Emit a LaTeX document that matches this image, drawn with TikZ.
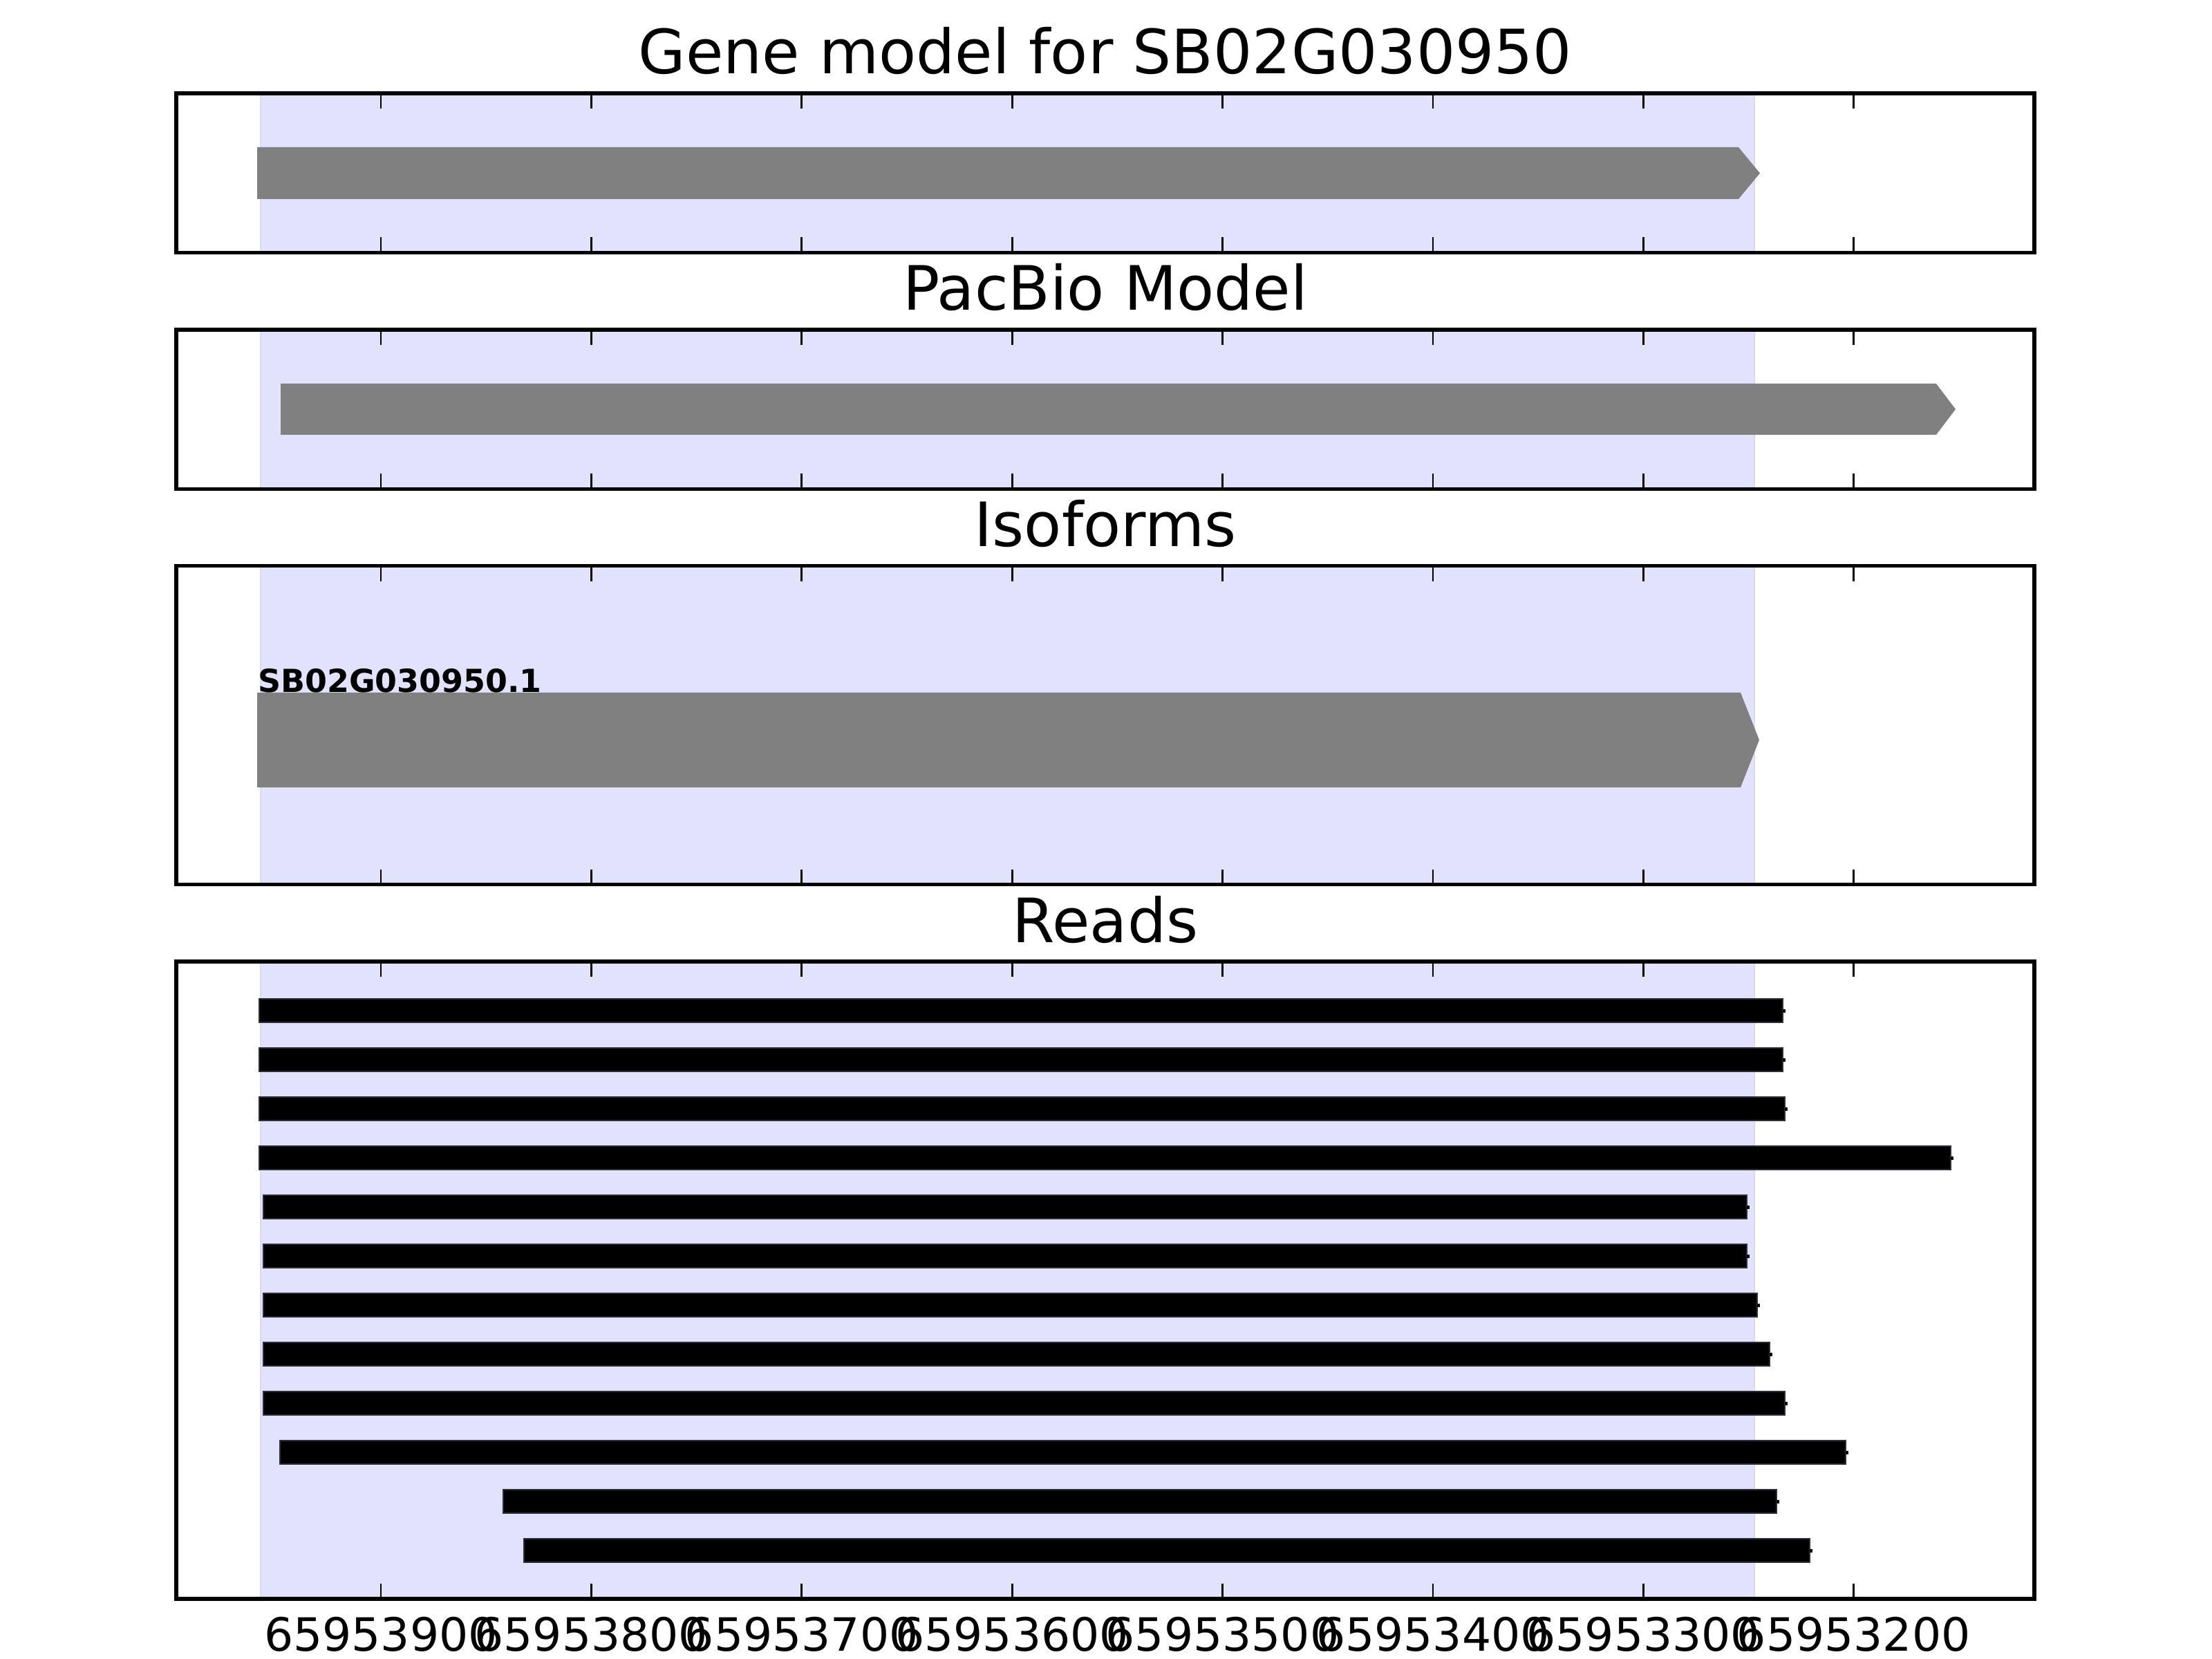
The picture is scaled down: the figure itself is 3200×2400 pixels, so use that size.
\documentclass[tikz,border=0pt]{standalone}
\usepackage{fontspec}
\setmainfont{DejaVu Sans}
\usepackage{xcolor}
\usepackage{tikz}

\definecolor{spanblue}{RGB}{226,226,255}
\definecolor{spanedge}{RGB}{218,218,238}
\definecolor{modelgray}{RGB}{128,128,128}
\definecolor{readedge}{RGB}{45,45,60}

\tikzset{
    panelframe/.style={draw=black, line width=1pt},
    spanbox/.style={fill=spanblue, draw=spanedge, line width=0.5pt},
    genebar/.style={fill=modelgray, draw=none},
    readbar/.style={fill=black, draw=readedge, line width=0.3pt},
    majortick/.style={draw=black, line width=0.5pt},
    paneltitle/.style={anchor=base, inner sep=0pt, font=\fontsize{16}{19}\selectfont},
    ticklabel/.style={anchor=base, inner sep=0pt, font=\fontsize{12}{14}\selectfont},
    isolabel/.style={anchor=base west, inner sep=0pt, font=\fontsize{8.3}{10}\selectfont\bfseries}
}

\begin{document}
\begin{tikzpicture}[x=0.0025in, y=-0.0025in]
\useasboundingbox[fill=white] (0,0) rectangle (3200,2400);

\foreach \pname/\ptop/\pbot/\ptitle in {
    gene/135/365.5/Gene model for SB02G030950,
    pacbio/476.8/707.3/PacBio Model,
    iso/818.6/1279.6/Isoforms,
    reads/1391/2313/Reads}{
    \draw[spanbox] (377,\ptop) rectangle (2538,\pbot);
    \node[paneltitle] (title-\pname) at (1599,\ptop-28) {\ptitle};
}

% gene model, pacbio model, isoform
\fill[genebar] (372,213) -- (2515,213) -- (2546,250.5) -- (2515,288) -- (372,288) -- cycle;
\fill[genebar] (406,555) -- (2801,555) -- (2829,592) -- (2801,629) -- (406,629) -- cycle;
\fill[genebar] (372,1002) -- (2518,1002) -- (2545,1070.5) -- (2518,1139) -- (372,1139) -- cycle;
\node[isolabel] (iso-label) at (372,1002) {SB02G030950.1};

% reads
\foreach \rl/\rr [count=\i from 0] in {375/2579, 375/2579, 375/2582, 375/2822,
    381/2527, 381/2527, 381/2542, 381/2560, 381/2582, 405/2670, 728/2570, 758/2618}{
    \pgfmathsetmacro\ry{1462+71*\i}
    \draw[readbar] (\rl,\ry-17) rectangle (\rr,\ry+17);
    \fill (\rr,\ry-2.5) rectangle (\rr+3.5,\ry+2.5);
}

\foreach \ptop/\pbot in {135/365.5, 476.8/707.3, 818.6/1279.6, 1391/2313}{
    \foreach \k in {0,...,7}{
        \draw[majortick] ({551+304.4*\k},\ptop) -- ++(0,22);
        \draw[majortick] ({551+304.4*\k},\pbot) -- ++(0,-22);
    }
    \draw[panelframe] (255,\ptop) rectangle (2943,\pbot);
}

\foreach \d [count=\k from 0] in {9,8,...,2}{
    \node[ticklabel] (tick-\d) at ({551+304.4*\k},2388) {65953\d00};
}
\end{tikzpicture}
\end{document}
